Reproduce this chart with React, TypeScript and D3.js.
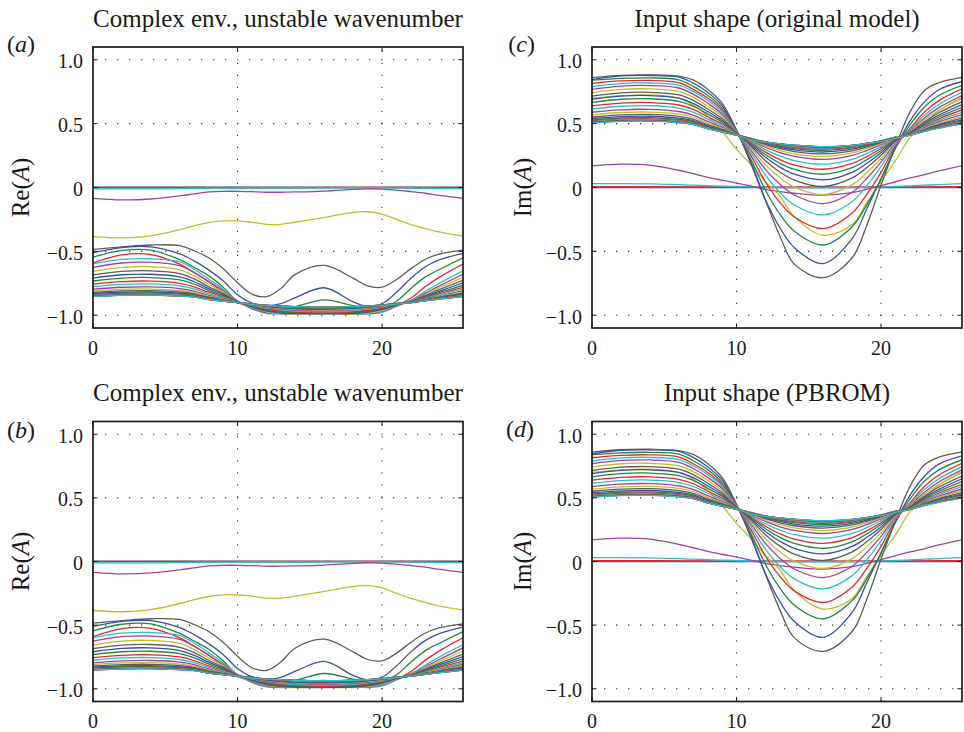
import React from 'react';
import * as d3 from 'd3';

// ---------- data ----------
const X_GRID = [0, 2, 4, 6, 7, 8, 9, 10, 11, 12, 13, 14, 16, 18, 19, 20, 21, 22, 23, 24, 25.6];

// Re(A) snapshots, oldest first
const re01 = [0, 0, 0, 0, 0, 0, 0, 0, 0, 0, 0, 0, 0, 0, 0, 0, 0, 0, 0, 0, 0];
const re02 = [0, 0, 0, 0, 0, 0, 0, 0, 0, 0, 0, 0, 0, 0, 0, 0, 0, 0, 0, 0, 0];
const re03 = [0.001, 0.001, 0.001, 0.001, 0.001, 0.001, 0.001, 0.001, 0.001, 0.001, 0.001, 0.001, 0.001, 0.001, 0.001, 0.001, 0.001, 0.001, 0.001, 0.001, 0.001];
const re04 = [-0.01, -0.011, -0.011, -0.009, -0.007, -0.006, -0.005, -0.004, -0.004, -0.004, -0.004, -0.004, -0.003, -0.002, -0.002, -0.002, -0.003, -0.004, -0.006, -0.008, -0.01];
const re05 = [-0.085, -0.097, -0.09, -0.065, -0.05, -0.035, -0.03, -0.03, -0.033, -0.037, -0.037, -0.035, -0.028, -0.014, -0.01, -0.012, -0.02, -0.032, -0.045, -0.062, -0.085];
const re06 = [-0.385, -0.395, -0.378, -0.33, -0.3, -0.275, -0.262, -0.262, -0.272, -0.288, -0.288, -0.272, -0.235, -0.195, -0.19, -0.208, -0.25, -0.29, -0.322, -0.35, -0.38];
const re07 = [-0.485, -0.465, -0.45, -0.455, -0.495, -0.55, -0.635, -0.745, -0.835, -0.855, -0.79, -0.68, -0.61, -0.71, -0.77, -0.78, -0.72, -0.635, -0.562, -0.52, -0.49];
const re08 = [-0.51, -0.47, -0.465, -0.52, -0.575, -0.645, -0.73, -0.84, -0.905, -0.925, -0.91, -0.862, -0.785, -0.895, -0.93, -0.91, -0.82, -0.71, -0.62, -0.565, -0.515];
const re09 = [-0.545, -0.493, -0.49, -0.565, -0.625, -0.69, -0.78, -0.89, -0.93, -0.94, -0.94, -0.932, -0.88, -0.925, -0.94, -0.94, -0.89, -0.79, -0.7, -0.64, -0.55];
const re10 = [-0.59, -0.527, -0.525, -0.6, -0.665, -0.735, -0.82, -0.9, -0.935, -0.95, -0.955, -0.952, -0.935, -0.955, -0.96, -0.955, -0.925, -0.865, -0.775, -0.7, -0.6];
const re11 = [-0.598, -0.563, -0.558, -0.582, -0.64, -0.716, -0.795, -0.889, -0.952, -0.985, -0.989, -0.981, -0.966, -0.984, -0.99, -0.977, -0.931, -0.882, -0.813, -0.747, -0.652];
const re12 = [-0.625, -0.591, -0.586, -0.611, -0.666, -0.737, -0.807, -0.89, -0.945, -0.98, -0.99, -0.988, -0.982, -0.989, -0.988, -0.97, -0.926, -0.887, -0.827, -0.768, -0.679];
const re13 = [-0.656, -0.625, -0.62, -0.644, -0.692, -0.757, -0.819, -0.891, -0.94, -0.974, -0.987, -0.99, -0.988, -0.99, -0.983, -0.964, -0.923, -0.889, -0.836, -0.783, -0.703];
const re14 = [-0.684, -0.657, -0.652, -0.674, -0.716, -0.776, -0.83, -0.892, -0.936, -0.968, -0.983, -0.988, -0.99, -0.987, -0.978, -0.957, -0.92, -0.891, -0.845, -0.798, -0.727];
const re15 = [-0.709, -0.683, -0.679, -0.7, -0.738, -0.791, -0.839, -0.893, -0.932, -0.961, -0.977, -0.985, -0.988, -0.983, -0.972, -0.952, -0.918, -0.894, -0.852, -0.811, -0.747];
const re16 = [-0.732, -0.709, -0.705, -0.724, -0.757, -0.805, -0.847, -0.894, -0.928, -0.955, -0.972, -0.98, -0.985, -0.978, -0.966, -0.946, -0.916, -0.896, -0.858, -0.822, -0.765];
const re17 = [-0.756, -0.737, -0.733, -0.75, -0.778, -0.82, -0.856, -0.895, -0.925, -0.95, -0.966, -0.974, -0.98, -0.972, -0.96, -0.942, -0.914, -0.897, -0.865, -0.831, -0.782];
const re18 = [-0.776, -0.758, -0.755, -0.77, -0.794, -0.832, -0.863, -0.896, -0.922, -0.944, -0.959, -0.967, -0.973, -0.965, -0.953, -0.937, -0.912, -0.898, -0.869, -0.839, -0.796];
const re19 = [-0.796, -0.781, -0.778, -0.791, -0.811, -0.844, -0.871, -0.897, -0.919, -0.939, -0.952, -0.959, -0.965, -0.957, -0.947, -0.932, -0.911, -0.899, -0.873, -0.848, -0.809];
const re20 = [-0.81, -0.797, -0.795, -0.806, -0.822, -0.852, -0.875, -0.898, -0.917, -0.935, -0.947, -0.954, -0.96, -0.952, -0.942, -0.929, -0.91, -0.9, -0.876, -0.852, -0.82];
const re21 = [-0.821, -0.81, -0.808, -0.818, -0.832, -0.859, -0.879, -0.898, -0.915, -0.931, -0.942, -0.95, -0.954, -0.947, -0.938, -0.926, -0.91, -0.9, -0.878, -0.857, -0.828];
const re22 = [-0.83, -0.82, -0.818, -0.828, -0.839, -0.865, -0.882, -0.899, -0.914, -0.929, -0.939, -0.945, -0.95, -0.943, -0.935, -0.923, -0.909, -0.901, -0.88, -0.861, -0.836];
const re23 = [-0.837, -0.827, -0.825, -0.834, -0.844, -0.868, -0.885, -0.9, -0.913, -0.926, -0.936, -0.942, -0.946, -0.94, -0.932, -0.922, -0.909, -0.901, -0.882, -0.865, -0.841];
const re24 = [-0.842, -0.833, -0.831, -0.839, -0.848, -0.871, -0.887, -0.9, -0.913, -0.924, -0.933, -0.939, -0.943, -0.937, -0.93, -0.92, -0.908, -0.901, -0.884, -0.867, -0.846];
const re25 = [-0.845, -0.837, -0.835, -0.843, -0.851, -0.873, -0.888, -0.9, -0.912, -0.923, -0.932, -0.937, -0.941, -0.936, -0.929, -0.919, -0.908, -0.901, -0.885, -0.869, -0.848];
const re26 = [-0.847, -0.839, -0.838, -0.845, -0.853, -0.874, -0.888, -0.9, -0.913, -0.923, -0.93, -0.936, -0.94, -0.935, -0.929, -0.92, -0.91, -0.898, -0.882, -0.866, -0.847];
const re27 = [-0.848, -0.84, -0.839, -0.846, -0.854, -0.874, -0.888, -0.9, -0.914, -0.923, -0.93, -0.935, -0.939, -0.934, -0.929, -0.921, -0.91, -0.899, -0.883, -0.868, -0.849];
const re28 = [-0.849, -0.842, -0.84, -0.848, -0.855, -0.875, -0.889, -0.901, -0.914, -0.924, -0.929, -0.934, -0.938, -0.934, -0.929, -0.922, -0.911, -0.899, -0.885, -0.87, -0.851];
const re29 = [-0.85, -0.842, -0.841, -0.848, -0.856, -0.876, -0.889, -0.901, -0.915, -0.924, -0.929, -0.933, -0.938, -0.934, -0.929, -0.922, -0.912, -0.9, -0.886, -0.871, -0.852];
const re30 = [-0.851, -0.843, -0.842, -0.849, -0.856, -0.876, -0.889, -0.901, -0.915, -0.924, -0.929, -0.933, -0.938, -0.933, -0.929, -0.922, -0.912, -0.9, -0.886, -0.872, -0.853];
const re31 = [-0.851, -0.843, -0.842, -0.85, -0.857, -0.877, -0.889, -0.901, -0.916, -0.924, -0.929, -0.933, -0.937, -0.933, -0.929, -0.923, -0.913, -0.901, -0.887, -0.873, -0.854];
const re32 = [-0.852, -0.844, -0.843, -0.85, -0.858, -0.877, -0.889, -0.901, -0.916, -0.924, -0.929, -0.933, -0.937, -0.933, -0.929, -0.923, -0.913, -0.901, -0.887, -0.873, -0.854];

// Im(A) snapshots, oldest first
const im01 = [0, 0, 0, 0, 0, 0, 0, 0, 0, 0, 0, 0, 0, 0, 0, 0, 0, 0, 0, 0, 0];
const im02 = [0.001, 0.001, 0.001, 0.001, 0.001, 0.001, 0.001, 0.001, 0.001, 0.001, 0.001, 0.001, 0.001, 0.001, 0.001, 0.001, 0.001, 0.001, 0.001, 0.001, 0.001];
const im03 = [0.006, 0.006, 0.006, 0.005, 0.005, 0.004, 0.004, 0.003, 0.003, 0.002, 0.002, 0.002, 0.002, 0.002, 0.002, 0.003, 0.003, 0.004, 0.005, 0.006, 0.006];
const im04 = [0.03, 0.031, 0.029, 0.022, 0.018, 0.014, 0.011, 0.008, 0.005, 0.002, 0.0, -0.001, -0.002, -0.001, 0.001, 0.004, 0.008, 0.013, 0.018, 0.023, 0.03];
const im05 = [0.17, 0.183, 0.175, 0.135, 0.108, 0.08, 0.057, 0.035, 0.01, -0.015, -0.032, -0.045, -0.06, -0.04, -0.015, 0.015, 0.045, 0.075, 0.1, 0.13, 0.17];
const im06 = [0.70, 0.72, 0.725, 0.70, 0.645, 0.56, 0.44, 0.3, 0.18, 0.045, -0.065, -0.23, -0.374, -0.29, -0.12, 0.05, 0.21, 0.39, 0.5, 0.6, 0.706];
const im07 = [0.86, 0.878, 0.882, 0.872, 0.842, 0.77, 0.66, 0.45, 0.2, -0.1, -0.38, -0.6, -0.706, -0.55, -0.3, 0.02, 0.32, 0.59, 0.76, 0.82, 0.862];
const im08 = [0.845, 0.874, 0.877, 0.865, 0.818, 0.745, 0.64, 0.446, 0.186, -0.096, -0.315, -0.471, -0.596, -0.4, -0.17, 0.07, 0.31, 0.52, 0.67, 0.765, 0.83];
const im09 = [0.84, 0.854, 0.858, 0.843, 0.792, 0.722, 0.62, 0.442, 0.219, -0.022, -0.209, -0.343, -0.45, -0.307, -0.138, 0.067, 0.308, 0.49, 0.63, 0.72, 0.8];
const im10 = [0.815, 0.834, 0.838, 0.821, 0.768, 0.7, 0.604, 0.439, 0.249, 0.043, -0.117, -0.231, -0.322, -0.2, -0.056, 0.119, 0.325, 0.46, 0.59, 0.68, 0.772];
const im11 = [0.789, 0.814, 0.818, 0.801, 0.752, 0.683, 0.589, 0.436, 0.273, 0.097, -0.039, -0.137, -0.215, -0.111, 0.013, 0.163, 0.338, 0.45, 0.565, 0.65, 0.745];
const im12 = [0.768, 0.794, 0.798, 0.779, 0.731, 0.661, 0.573, 0.433, 0.293, 0.142, 0.025, -0.059, -0.126, -0.037, 0.07, 0.198, 0.349, 0.44, 0.545, 0.625, 0.72];
const im13 = [0.742, 0.768, 0.772, 0.752, 0.706, 0.638, 0.556, 0.431, 0.31, 0.178, 0.076, 0.003, -0.055, 0.023, 0.115, 0.227, 0.358, 0.435, 0.53, 0.605, 0.697];
const im14 = [0.715, 0.741, 0.745, 0.725, 0.682, 0.615, 0.54, 0.428, 0.323, 0.21, 0.121, 0.058, 0.008, 0.075, 0.155, 0.252, 0.365, 0.43, 0.515, 0.585, 0.672];
const im15 = [0.691, 0.716, 0.72, 0.7, 0.659, 0.595, 0.525, 0.426, 0.335, 0.236, 0.159, 0.104, 0.06, 0.119, 0.188, 0.272, 0.371, 0.425, 0.503, 0.567, 0.65];
const im16 = [0.667, 0.691, 0.695, 0.675, 0.637, 0.576, 0.512, 0.424, 0.344, 0.258, 0.19, 0.142, 0.104, 0.155, 0.216, 0.29, 0.376, 0.42, 0.493, 0.552, 0.628];
const im17 = [0.639, 0.661, 0.665, 0.646, 0.611, 0.554, 0.497, 0.422, 0.352, 0.277, 0.218, 0.176, 0.143, 0.188, 0.241, 0.305, 0.38, 0.418, 0.483, 0.538, 0.607];
const im18 = [0.615, 0.636, 0.64, 0.622, 0.59, 0.536, 0.485, 0.42, 0.361, 0.297, 0.247, 0.211, 0.183, 0.221, 0.266, 0.32, 0.384, 0.415, 0.475, 0.525, 0.588];
const im19 = [0.589, 0.608, 0.612, 0.595, 0.567, 0.517, 0.472, 0.418, 0.369, 0.315, 0.273, 0.244, 0.22, 0.252, 0.289, 0.335, 0.388, 0.413, 0.467, 0.513, 0.57];
const im20 = [0.569, 0.587, 0.59, 0.574, 0.55, 0.503, 0.463, 0.416, 0.373, 0.326, 0.29, 0.264, 0.243, 0.271, 0.304, 0.343, 0.39, 0.412, 0.461, 0.503, 0.555];
const im21 = [0.552, 0.569, 0.572, 0.557, 0.536, 0.492, 0.455, 0.415, 0.377, 0.336, 0.304, 0.281, 0.263, 0.287, 0.316, 0.351, 0.392, 0.411, 0.456, 0.495, 0.542];
const im22 = [0.54, 0.555, 0.558, 0.543, 0.524, 0.483, 0.449, 0.414, 0.38, 0.343, 0.315, 0.294, 0.278, 0.3, 0.326, 0.357, 0.394, 0.41, 0.452, 0.488, 0.53];
const im23 = [0.529, 0.544, 0.547, 0.533, 0.516, 0.476, 0.445, 0.412, 0.382, 0.349, 0.323, 0.305, 0.29, 0.31, 0.333, 0.361, 0.394, 0.41, 0.449, 0.482, 0.522];
const im24 = [0.521, 0.535, 0.538, 0.525, 0.509, 0.471, 0.441, 0.412, 0.384, 0.354, 0.33, 0.313, 0.3, 0.318, 0.339, 0.365, 0.395, 0.41, 0.446, 0.477, 0.515];
const im25 = [0.516, 0.529, 0.532, 0.519, 0.504, 0.467, 0.439, 0.411, 0.385, 0.357, 0.335, 0.319, 0.307, 0.324, 0.343, 0.367, 0.395, 0.41, 0.444, 0.473, 0.51];
const im26 = [0.513, 0.526, 0.528, 0.516, 0.501, 0.465, 0.438, 0.411, 0.383, 0.358, 0.338, 0.323, 0.311, 0.326, 0.344, 0.366, 0.392, 0.415, 0.448, 0.479, 0.512];
const im27 = [0.511, 0.524, 0.526, 0.514, 0.499, 0.464, 0.437, 0.411, 0.381, 0.357, 0.34, 0.326, 0.314, 0.327, 0.344, 0.364, 0.39, 0.414, 0.446, 0.475, 0.509];
const im28 = [0.509, 0.522, 0.524, 0.512, 0.498, 0.463, 0.436, 0.41, 0.379, 0.356, 0.341, 0.328, 0.316, 0.328, 0.344, 0.363, 0.389, 0.413, 0.444, 0.472, 0.506];
const im29 = [0.508, 0.521, 0.523, 0.511, 0.497, 0.462, 0.436, 0.41, 0.378, 0.356, 0.341, 0.33, 0.317, 0.329, 0.345, 0.362, 0.387, 0.412, 0.442, 0.469, 0.504];
const im30 = [0.507, 0.52, 0.522, 0.51, 0.496, 0.461, 0.435, 0.41, 0.377, 0.355, 0.342, 0.331, 0.318, 0.33, 0.345, 0.361, 0.386, 0.411, 0.441, 0.467, 0.502];
const im31 = [0.506, 0.519, 0.521, 0.509, 0.495, 0.46, 0.435, 0.41, 0.376, 0.355, 0.342, 0.332, 0.319, 0.33, 0.345, 0.36, 0.385, 0.41, 0.44, 0.466, 0.501];
const im32 = [0.505, 0.518, 0.52, 0.508, 0.494, 0.46, 0.435, 0.41, 0.375, 0.355, 0.342, 0.332, 0.32, 0.33, 0.345, 0.36, 0.385, 0.41, 0.44, 0.465, 0.5];

const RE_SERIES = [re01, re02, re03, re04, re05, re06, re07, re08, re09, re10, re11, re12, re13, re14, re15, re16,
  re17, re18, re19, re20, re21, re22, re23, re24, re25, re26, re27, re28, re29, re30, re31, re32];
const IM_SERIES = [im01, im02, im03, im04, im05, im06, im07, im08, im09, im10, im11, im12, im13, im14, im15, im16,
  im17, im18, im19, im20, im21, im22, im23, im24, im25, im26, im27, im28, im29, im30, im31, im32];

const X_TICKS = [0, 10, 20];
const X_TICK_LABELS = ['0', '10', '20'];
const Y_TICKS = [-1, -0.5, 0, 0.5, 1];
const Y_TICK_LABELS = ['\u22121.0', '\u22120.5', '0', '0.5', '1.0'];
const X_DOMAIN = [0, 25.6];
const Y_DOMAIN = [-1.1, 1.1];

// MATLAB-like colour order: b g r c m y k
const COLOR_CYCLE = ['#3a4eb0', '#1e893d', '#e5262c', '#2cbfc8', '#a2409f', '#c2bd2d', '#5d5d5d'];

// ---------- layout ----------
const FONT = '"Liberation Serif", "Times New Roman", Times, serif';

const PANELS = [
  { id: 'a', title: 'Complex env., unstable wavenumber', ylab: 'Re', series: RE_SERIES,
    left: 93, right: 463, top: 47, bottom: 328, titleY: 26.5, letterX: 35, letterY: 52, ylabX: 29 },
  { id: 'b', title: 'Complex env., unstable wavenumber', ylab: 'Re', series: RE_SERIES,
    left: 93, right: 463, top: 421.5, bottom: 701.5, titleY: 400.5, letterX: 35, letterY: 438, ylabX: 29 },
  { id: 'c', title: 'Input shape (original model)', ylab: 'Im', series: IM_SERIES,
    left: 592, right: 962, top: 47, bottom: 328, titleY: 26.5, letterX: 535, letterY: 52, ylabX: 531 },
  { id: 'd', title: 'Input shape (PBROM)', ylab: 'Im', series: IM_SERIES,
    left: 592, right: 962, top: 421.5, bottom: 701.5, titleY: 400.5, letterX: 534, letterY: 437, ylabX: 531 },
];

function Panel({ p }: { p: any }) {
  const x = d3.scaleLinear().domain(X_DOMAIN).range([p.left, p.right]);
  const y = d3.scaleLinear().domain(Y_DOMAIN).range([p.bottom, p.top]);
  const line = d3.line<number>()
    .x((_, i) => x(X_GRID[i]))
    .y((d) => y(d))
    .curve(d3.curveCatmullRom.alpha(0.5));
  const clipId = `clip-${p.id}`;
  const tickLen = 4.5;
  const cx = (p.left + p.right) / 2;
  const cy = (p.top + p.bottom) / 2;
  return (
    <g>
      <defs>
        <clipPath id={clipId}>
          <rect x={p.left} y={p.top} width={p.right - p.left} height={p.bottom - p.top} />
        </clipPath>
      </defs>
      {/* grid */}
      <g stroke="#333" strokeWidth={1.1} strokeDasharray="1.3 10.7" fill="none">
        {X_TICKS.filter((t) => t > X_DOMAIN[0]).map((t) => (
          <line key={`gx${t}`} x1={x(t)} x2={x(t)} y1={p.bottom} y2={p.top} />
        ))}
        {Y_TICKS.map((t) => (
          <line key={`gy${t}`} x1={p.left} x2={p.right} y1={y(t)} y2={y(t)} />
        ))}
      </g>
      {/* curves */}
      <g clipPath={`url(#${clipId})`} fill="none" strokeWidth={1.3}>
        {p.series.map((s: number[], i: number) => (
          <path key={i} d={line(s) || ''} stroke={COLOR_CYCLE[i % COLOR_CYCLE.length]} />
        ))}
      </g>
      {/* ticks */}
      <g stroke="#1a1a1a" strokeWidth={1}>
        {X_TICKS.map((t) => (
          <g key={`tx${t}`}>
            <line x1={x(t)} x2={x(t)} y1={p.bottom} y2={p.bottom - tickLen} />
            <line x1={x(t)} x2={x(t)} y1={p.top} y2={p.top + tickLen} />
          </g>
        ))}
        {Y_TICKS.map((t) => (
          <g key={`ty${t}`}>
            <line x1={p.left} x2={p.left + tickLen} y1={y(t)} y2={y(t)} />
            <line x1={p.right} x2={p.right - tickLen} y1={y(t)} y2={y(t)} />
          </g>
        ))}
      </g>
      {/* box */}
      <rect x={p.left} y={p.top} width={p.right - p.left} height={p.bottom - p.top}
        fill="none" stroke="#1a1a1a" strokeWidth={1.7} />
      {/* tick labels */}
      <g fontFamily={FONT} fontSize={20} fill="#1a1a1a">
        {Y_TICKS.map((t, i) => (
          <text key={`ly${t}`} x={p.left - 10} y={y(t) + 8.5} textAnchor="end">{Y_TICK_LABELS[i]}</text>
        ))}
        {X_TICKS.map((t, i) => (
          <text key={`lx${t}`} x={x(t)} y={p.bottom + 26.5} textAnchor="middle">{X_TICK_LABELS[i]}</text>
        ))}
      </g>
      {/* title */}
      <text x={cx} y={p.titleY} textAnchor="middle" fontFamily={FONT} fontSize={25} fill="#1a1a1a">{p.title}</text>
      {/* panel letter */}
      <text x={p.letterX} y={p.letterY} textAnchor="end" fontFamily={FONT} fontSize={24} fill="#1a1a1a">
        (<tspan fontStyle="italic">{p.id}</tspan>)
      </text>
      {/* y label */}
      <text transform={`translate(${p.ylabX},${cy}) rotate(-90)`} textAnchor="middle"
        fontFamily={FONT} fontSize={25} fill="#1a1a1a">
        {p.ylab}(<tspan fontStyle="italic">A</tspan>)
      </text>
    </g>
  );
}

export default function App() {
  return (
    <svg width={964} height={732} style={{ position: 'absolute', left: 0, top: 0, background: '#fff' }}>
      <rect x={0} y={0} width={964} height={732} fill="#fff" />
      {PANELS.map((p) => <Panel key={p.id} p={p} />)}
    </svg>
  );
}
